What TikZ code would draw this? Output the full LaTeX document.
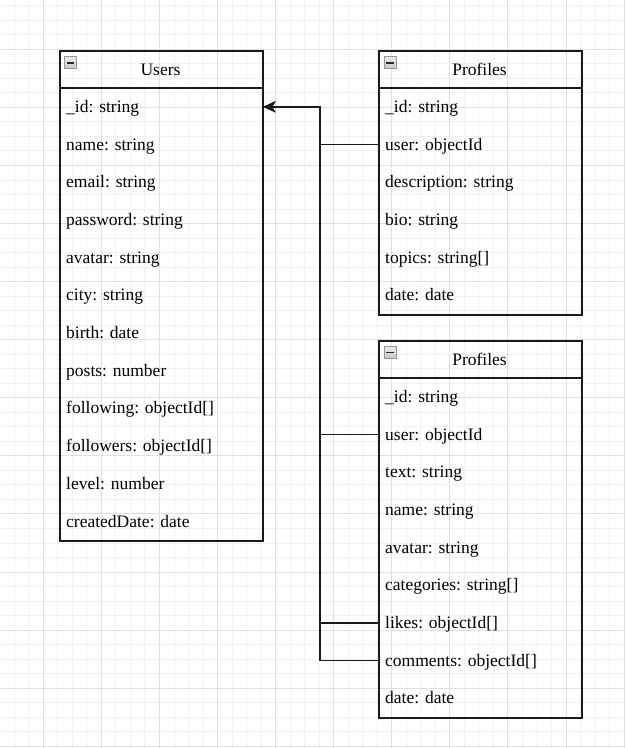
\documentclass[tikz,border=0pt]{standalone}
\usepackage{fontspec}
\setmainfont{Liberation Serif}
\usetikzlibrary{arrows.meta}

\definecolor{gridminor}{HTML}{F1F1F1}
\definecolor{gridmajor}{HTML}{E0E0E0}
\definecolor{inkline}{HTML}{1A1A1A}
\definecolor{iconedge}{HTML}{969696}

\newcommand\labelfont{\fontsize{17.5pt}{21pt}\selectfont}

\tikzset{
  entity/.style={draw=inkline, line width=1.5pt, rectangle, inner sep=0pt,
    minimum width=203pt, anchor=north west},
  headrule/.style={draw=inkline, line width=1.5pt},
  title/.style={font=\labelfont, inner sep=0pt, text height=13pt, text depth=0pt},
  field/.style={font=\labelfont, inner sep=0pt, anchor=west, text height=11pt, text depth=0pt},
  collapser/.style={rectangle, draw=iconedge, line width=0.9pt, minimum size=12pt,
    inner sep=0pt, top color=white!92!black, bottom color=white!78!black,
    path picture={\draw[line width=1.7pt, black!85]
      ([xshift=-3.6pt]path picture bounding box.center) --
      ([xshift=3.6pt]path picture bounding box.center);}},
  link/.style={draw=inkline, line width=1.4pt},
  fk/.style={link, -{Stealth[length=12pt, width=11pt, inset=3.5pt]}},
  minorgrid/.style={draw=gridminor, line width=0.9pt},
  majorgrid/.style={draw=gridmajor, line width=0.9pt},
}

\begin{document}
\begin{tikzpicture}[x=1pt, y=-1pt]
  \useasboundingbox (0,0) rectangle (625,748);

  % background grid
  \foreach \k in {0,...,43}
    \draw[minorgrid] ({-0.26+14.52*\k},0) -- ++(0,748);
  \foreach \k in {0,...,51}
    \draw[minorgrid] (0,{5.74+14.52*\k}) -- ++(625,0);
  \foreach \k in {0,...,10}
    \draw[majorgrid] ({43.3+58.08*\k},0) -- ++(0,748);
  \foreach \k in {0,...,12}
    \draw[majorgrid] (0,{49.3+58.08*\k}) -- ++(625,0);

  % Users collection
  \node[entity, minimum height=490.4pt] (users) at (59,50) {};
  \draw[headrule] ([yshift=-38pt]users.north west) -- ([yshift=-38pt]users.north east);
  \node[collapser] (users-icon) at (70.8,62.8) {};
  \node[title] (users-title) at (160.5,69) {Users};
  \foreach \t [count=\i] in {\_id: string, name: string, email: string,
      password: string, avatar: string, city: string, birth: date,
      posts: number, {following: objectId[]}, {followers: objectId[]},
      level: number, createdDate: date}
    \node[field] (users-\i) at (66,{88+37.7*(\i-0.5)}) {\t};

  % Profiles collection
  \node[entity, minimum height=264.2pt] (prof) at (378,50) {};
  \draw[headrule] ([yshift=-38pt]prof.north west) -- ([yshift=-38pt]prof.north east);
  \node[collapser] (prof-icon) at (390,62.8) {};
  \node[title] (prof-title) at (479.5,69) {Profiles};
  \foreach \t [count=\i] in {\_id: string, user: objectId, description: string,
      bio: string, {topics: string[]}, date: date}
    \node[field] (prof-\i) at (385,{88+37.7*(\i-0.5)}) {\t};

  % second Profiles collection
  \node[entity, minimum height=377.3pt] (post) at (378,340) {};
  \draw[headrule] ([yshift=-38pt]post.north west) -- ([yshift=-38pt]post.north east);
  \node[collapser] (post-icon) at (390,352.6) {};
  \node[title] (post-title) at (479.5,359) {Profiles};
  \foreach \t [count=\i] in {\_id: string, user: objectId, text: string,
      name: string, avatar: string, {categories: string[]},
      {likes: objectId[]}, {comments: objectId[]}, date: date}
    \node[field] (post-\i) at (385,{378+37.7*(\i-0.5)}) {\t};

  % references to Users._id, routed along a shared column
  \coordinate (bus) at (320,0);
  \draw[fk] (prof.west |- prof-2) -- (bus |- prof-2) -- (bus |- users-1) -- (users.east |- users-1);
  \draw[fk] (post.west |- post-2) -- (bus |- post-2) -- (bus |- users-1) -- (users.east |- users-1);
  \draw[fk] (post.west |- post-7) -- (bus |- post-7) -- (bus |- users-1) -- (users.east |- users-1);
  \draw[fk] (post.west |- post-8) -- (bus |- post-8) -- (bus |- users-1) -- (users.east |- users-1);
\end{tikzpicture}
\end{document}
